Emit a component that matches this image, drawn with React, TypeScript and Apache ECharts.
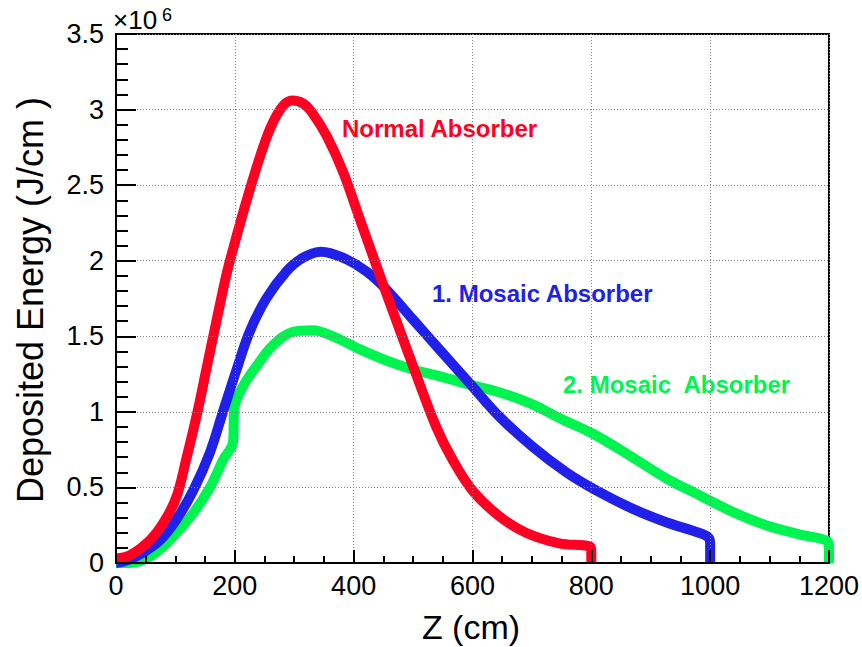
import React, { useEffect, useRef } from "react";
import * as echarts from "echarts";

// Z (cm) and deposited energy (×10^6 J/cm)
const normalZ = [0, 23, 57, 82, 102, 119, 136, 152, 169, 186, 200, 220, 240, 260, 280, 297, 315, 330, 354, 382, 410, 438, 460, 503, 539, 567, 600, 645, 690, 746, 797, 800, 800];
const normalE = [0.03, 0.05, 0.15, 0.28, 0.44, 0.7, 0.98, 1.28, 1.6, 1.91, 2.12, 2.4, 2.66, 2.88, 3.02, 3.06, 3.04, 2.98, 2.83, 2.59, 2.28, 1.97, 1.73, 1.27, 0.9, 0.68, 0.48, 0.31, 0.2, 0.13, 0.11, 0.08, 0];

const mosaic1Z = [0, 20, 46, 74, 102, 130, 158, 180, 203, 225, 253, 287, 315, 345, 382, 421, 455, 500, 545, 595, 645, 701, 758, 813, 869, 926, 981, 997, 1000, 1000];
const mosaic1E = [0, 0.02, 0.07, 0.15, 0.29, 0.48, 0.73, 1.0, 1.28, 1.53, 1.75, 1.93, 2.02, 2.06, 2.02, 1.93, 1.81, 1.61, 1.41, 1.19, 0.97, 0.77, 0.6, 0.47, 0.36, 0.27, 0.2, 0.17, 0.13, 0];

const mosaic2Z = [0, 20, 46, 74, 102, 130, 158, 180, 197, 199, 214, 236, 264, 298, 331, 371, 407, 455, 500, 550, 595, 645, 701, 746, 805, 869, 926, 981, 1037, 1094, 1150, 1195, 1200, 1200];
const mosaic2E = [0, 0.0, 0.02, 0.09, 0.2, 0.33, 0.5, 0.68, 0.8, 1.02, 1.17, 1.3, 1.44, 1.53, 1.54, 1.49, 1.42, 1.34, 1.28, 1.23, 1.18, 1.13, 1.05, 0.96, 0.85, 0.7, 0.56, 0.45, 0.34, 0.25, 0.19, 0.15, 0.11, 0];

const seriesNames = ["Normal Absorber", "1. Mosaic Absorber", "2. Mosaic  Absorber"];
const colors = ["#ff0022", "#2020e8", "#00f450"];

const FONT = "'Liberation Sans', Arial, Helvetica, sans-serif";

function zip(xs: number[], ys: number[]) {
  return xs.map((x, i) => [x, ys[i]]);
}

export default function App() {
  const ref = useRef<HTMLDivElement>(null);
  useEffect(() => {
    if (!ref.current) return;
    const chart = echarts.init(ref.current, null, { renderer: "svg" });
    const datasets = [zip(normalZ, normalE), zip(mosaic1Z, mosaic1E), zip(mosaic2Z, mosaic2E)];
    chart.setOption({
      animation: false,
      backgroundColor: "#fff",
      grid: { left: 116, right: 32, top: 34, bottom: 84, show: true, borderColor: "#000", borderWidth: 2, backgroundColor: "rgba(0,0,0,0)" },
      xAxis: {
        type: "value",
        min: 0,
        max: 1200,
        interval: 200,
        z: 6,
        axisLine: { show: true, onZero: false, lineStyle: { color: "#000", width: 2 } },
        axisTick: { show: true, inside: true, length: 13, lineStyle: { color: "#000", width: 2 } },
        minorTick: { show: true, splitNumber: 4, length: 7, lineStyle: { color: "#000", width: 2 } },
        splitLine: { show: true, lineStyle: { color: "#888", type: [1, 2], width: 1 } },
        axisLabel: { color: "#000", fontSize: 27, fontFamily: FONT, margin: 9, formatter: (v: number) => String(v) },
      },
      yAxis: {
        type: "value",
        min: 0,
        max: 3.5,
        interval: 0.5,
        z: 6,
        axisLine: { show: true, onZero: false, lineStyle: { color: "#000", width: 2 } },
        axisTick: { show: true, inside: true, length: 20, lineStyle: { color: "#000", width: 2 } },
        minorTick: { show: true, splitNumber: 5, length: 12, lineStyle: { color: "#000", width: 2 } },
        splitLine: { show: true, lineStyle: { color: "#888", type: [1, 2], width: 1 } },
        axisLabel: { color: "#000", fontSize: 27, fontFamily: FONT, margin: 12, formatter: (v: number) => String(v) },
      },
      series: datasets.map((d, i) => ({
        name: seriesNames[i],
        type: "line",
        data: d,
        showSymbol: false,
        symbol: "none",
        smooth: 0.35,
        lineStyle: { color: colors[i], width: 10, join: "round", cap: "butt" },
        z: 5 - i,
      })),
      graphic: [
        {
          type: "text",
          x: 30,
          y: 300,
          rotation: Math.PI / 2,
          style: { text: "Deposited Energy (J/cm )", fontSize: 36, fontFamily: FONT, fill: "#000", align: "center", verticalAlign: "middle" },
        },
        {
          type: "text",
          x: 471,
          y: 627,
          style: { text: "Z (cm)", fontSize: 34, fontFamily: FONT, fill: "#000", align: "center", verticalAlign: "middle" },
        },
        { type: "text", x: 113, y: 33, style: { text: "×10", fontSize: 26, fontFamily: FONT, fill: "#000", align: "left", verticalAlign: "bottom" } },
        { type: "text", x: 162, y: 24, style: { text: "6", fontSize: 18, fontFamily: FONT, fill: "#000", align: "left", verticalAlign: "bottom" } },
        { type: "text", x: 342, y: 128, style: { text: seriesNames[0], fontSize: 24, fontWeight: "bold", fontFamily: FONT, fill: colors[0], align: "left", verticalAlign: "middle" } },
        { type: "text", x: 432, y: 293, style: { text: seriesNames[1], fontSize: 24, fontWeight: "bold", fontFamily: FONT, fill: colors[1], align: "left", verticalAlign: "middle" } },
        { type: "text", x: 563, y: 384, style: { text: seriesNames[2], fontSize: 24, fontWeight: "bold", fontFamily: FONT, fill: colors[2], align: "left", verticalAlign: "middle" } },
      ],
    });
    return () => chart.dispose();
  }, []);
  return <div ref={ref} style={{ position: "fixed", left: 0, top: 0, width: 862, height: 647 }} />;
}
